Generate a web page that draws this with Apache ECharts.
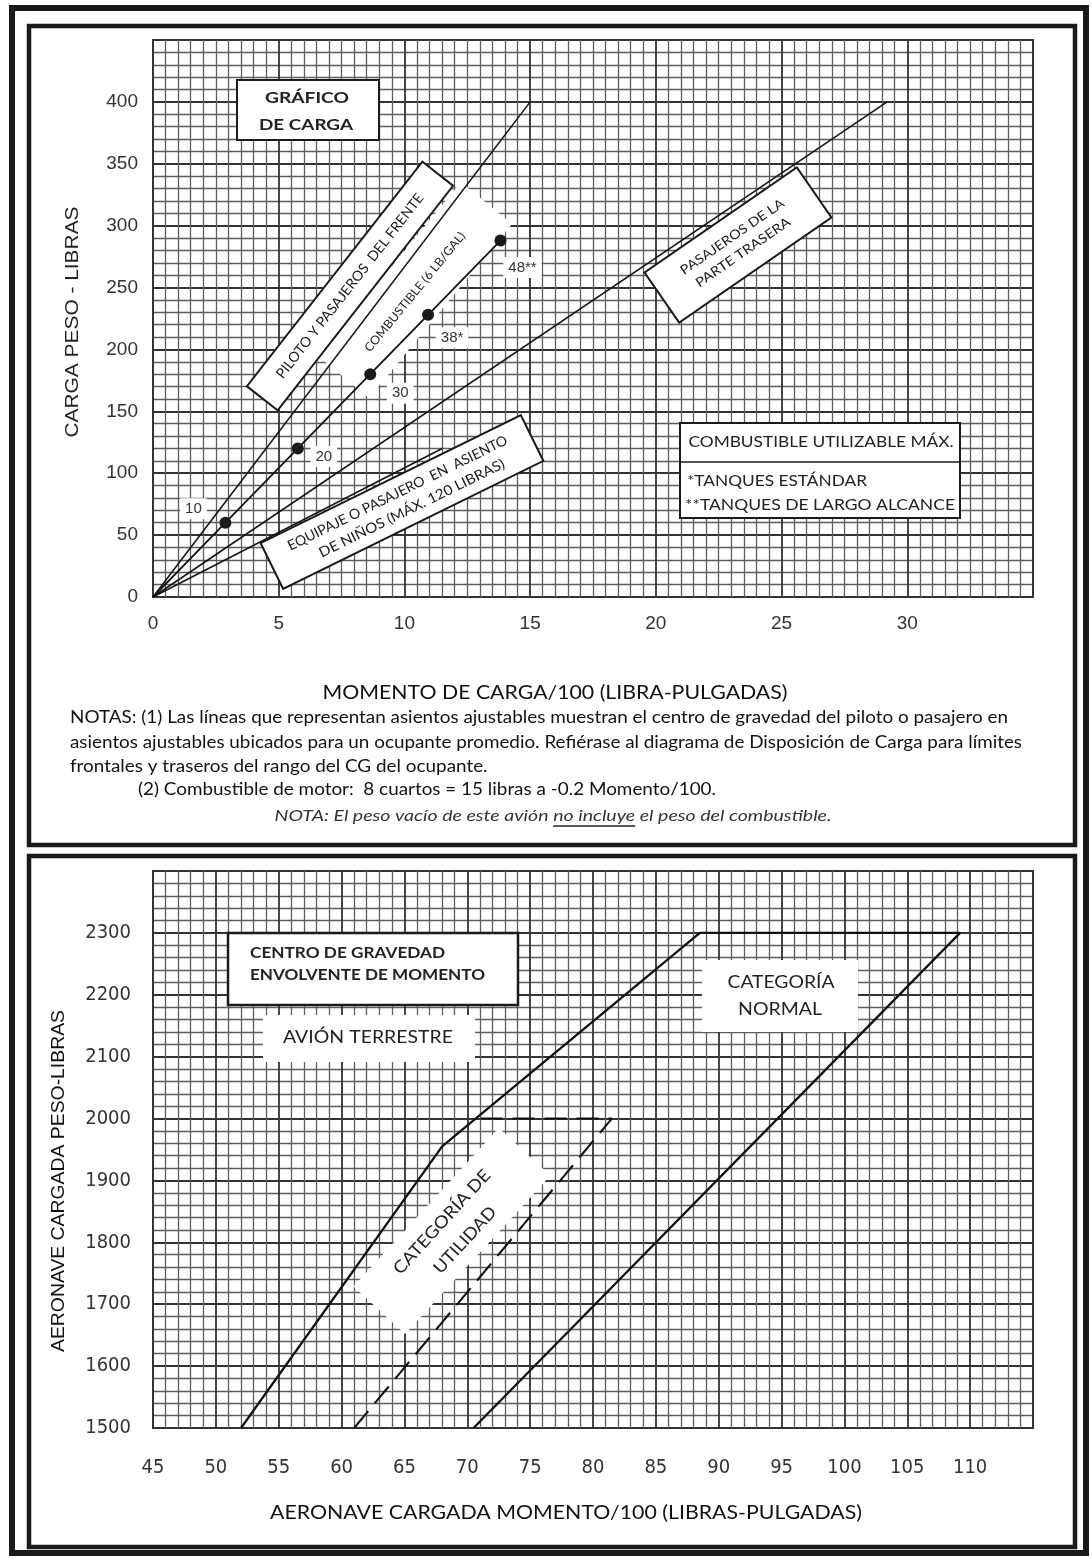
<!DOCTYPE html>
<html><head><meta charset="utf-8">
<script src="https://cdn.jsdelivr.net/npm/echarts/dist/echarts.min.js"></script>
<style>html,body{margin:0;padding:0;background:#fff}#c{width:1092px;height:1558px}</style>
</head><body><div id="c"></div>
<script>
// ---------- DATA ----------
// Loading graph (top): x = load moment/100 (lb-in), y = load weight (lb)
const pilotLine    = [[0, 0], [15, 400]];
const rearLine     = [[0, 0], [29.2, 400]];
const baggageLine  = [[0, 0], [11.5, 120]];
const fuelMoments  = [0, 2.88, 5.76, 8.64, 10.94, 13.82];
const fuelWeights  = [0, 60, 120, 180, 228, 288];
const fuelGallons  = ['', '10', '20', '30', '38', '48'];
const fuelMarks    = ['', '', '', '', '*', '**'];
// CG moment envelope (bottom)
const normalEnvelope = [[52, 1500], [68, 1955], [88.5, 2300], [109.2, 2300], [70.5, 1500]];
const utilityLine    = [[61, 1500], [81.5, 2000], [70.7, 2000]];
// axes
const topX = {min: 0, max: 35, interval: 5, minor: 10};
const topY = {min: 0, max: 450, interval: 50, minor: 5};
const botX = {min: 45, max: 115, interval: 5, minor: 5};
const botY = {min: 1500, max: 2400, interval: 100, minor: 5};

// ---------- HELPERS ----------
const CAL = 'Lato, "Open Sans", sans-serif';
const ARIAL = '"Liberation Sans", Arial, sans-serif';
const NARROW = '"Liberation Sans Narrow", "DejaVu Sans Condensed", "Liberation Sans", sans-serif';
const mctx = document.createElement('canvas').getContext('2d');
function tw(text, size, fam, weight, fstyle) {
  mctx.font = (fstyle || 'normal') + ' ' + (weight || 'normal') + ' ' + size + 'px ' + fam;
  return mctx.measureText(text).width;
}
function txt(text, x, y, o) {
  o = o || {};
  const size = o.size || 15, fam = o.fam || CAL, weight = o.weight || 'normal', fs = o.fstyle || 'normal';
  let sx = o.sx || 1;
  if (o.w) sx = o.w / tw(text, size, fam, weight, fs);
  return {type: 'text', x: x, y: y, rotation: (o.rot || 0) * Math.PI / 180, scaleX: sx, z: o.z || 30, silent: true,
    style: {text: text, x: 0, y: 0, align: o.align || 'center', verticalAlign: 'middle', fontSize: size,
      fontFamily: fam, fontWeight: weight, fontStyle: fs, fill: o.color || '#111'}};
}
function rbox(cx, cy, w, h, deg, lines, o) {
  o = o || {};
  const z = o.z || 20;
  const kids = [{type: 'rect', z: z, shape: {x: -w / 2, y: -h / 2, width: w, height: h},
    style: {fill: '#fff', stroke: o.stroke === undefined ? '#1a1a1a' : o.stroke, lineWidth: o.lw || 2}}];
  lines.forEach(function (l) {
    kids.push(txt(l.t, l.dx || 0, l.dy || 0, {size: l.size || o.size || 13, w: l.w, fam: l.fam || CAL, weight: l.weight || o.weight, align: l.align, z: z + 1, color: '#1a1a1a'}));
  });
  return {type: 'group', x: cx, y: cy, rotation: deg * Math.PI / 180, z: z, children: kids};
}
function gridLines() {
  return {
    splitLine: {show: true, lineStyle: {color: '#333', width: 1.8}},
    minorSplitLine: {show: true, lineStyle: {color: '#5e5e5e', width: 1.3}},
    axisLine: {show: false}, axisTick: {show: false}
  };
}
function axis(gi, a, label) {
  return Object.assign({gridIndex: gi, type: 'value', min: a.min, max: a.max, interval: a.interval,
    minorTick: {show: false, splitNumber: a.minor},
    axisLabel: Object.assign({showMaxLabel: false, color: '#333', formatter: function (v) { return String(v); }}, label)}, gridLines());
}

// fuel series data (labels placed beside each dot)
const labelOffsets = [null, [-32, -14], [26, 8], [30, 19], [24, 23], [22, 27]];
const fuelData = fuelMoments.map(function (m, i) {
  if (i === 0) return {value: [m, fuelWeights[i]], symbol: 'none', label: {show: false}};
  const off = labelOffsets[i];
  return {value: [m, fuelWeights[i]], label: {show: true, position: [6 + off[0], 6 + off[1]], align: 'center', verticalAlign: 'middle',
    formatter: fuelGallons[i] + fuelMarks[i], backgroundColor: '#fff', padding: [3, 5],
    fontSize: 15, fontFamily: ARIAL, color: '#333'}};
});

const chart = echarts.init(document.getElementById('c'), null, {renderer: 'canvas'});

// notes
const NS = 17;
const note1 = 'NOTAS: (1) Las líneas que representan asientos ajustables muestran el centro de gravedad del piloto o pasajero en';
const note2 = 'asientos ajustables ubicados para un ocupante promedio. Refiérase al diagrama de Disposición de Carga para límites';
const note3 = 'frontales y traseros del rango del CG del ocupante.';
const note4 = '(2) Combustible de motor:  8 cuartos = 15 libras a -0.2 Momento/100.';
const noteScale = 938 / tw(note1, NS, CAL);
const note5 = 'NOTA: El peso vacío de este avión no incluye el peso del combustible.';
const n5pre = 'NOTA: El peso vacío de este avión ';
const n5u = 'no incluye';
const n5w = 557, n5size = 16;
const n5s = n5w / tw(note5, n5size, CAL, 'normal', 'italic');
const n5left = 553 - n5w / 2;
const uStart = n5left + tw(n5pre, n5size, CAL, 'normal', 'italic') * n5s;
const uEnd = uStart + tw(n5u, n5size, CAL, 'normal', 'italic') * n5s;

const graphics = [
  // frames
  {type: 'rect', z: 40, shape: {x: 12, y: 8, width: 1074, height: 1545}, style: {fill: null, stroke: '#1a1a1a', lineWidth: 6}},
  {type: 'rect', z: 40, shape: {x: 29, y: 26, width: 1046, height: 819}, style: {fill: null, stroke: '#1a1a1a', lineWidth: 4.5}},
  {type: 'rect', z: 40, shape: {x: 29, y: 856, width: 1046, height: 691}, style: {fill: null, stroke: '#1a1a1a', lineWidth: 4.5}},
  // axis titles
  txt('CARGA PESO - LIBRAS', 73, 322, {rot: 90, w: 231, size: 18, fam: ARIAL, color: '#222'}),
  txt('MOMENTO DE CARGA/100 (LIBRA-PULGADAS)', 555, 693, {w: 465, size: 19}),
  txt('AERONAVE CARGADA PESO-LIBRAS', 59, 1181, {rot: 90, w: 342, size: 18, fam: ARIAL, color: '#111'}),
  txt('AERONAVE CARGADA MOMENTO/100 (LIBRAS-PULGADAS)', 566, 1513, {w: 592, size: 19}),
  // notes
  txt(note1, 70, 718, {align: 'left', sx: noteScale, size: NS}),
  txt(note2, 70, 743, {align: 'left', w: 952, size: NS}),
  txt(note3, 70, 767, {align: 'left', sx: noteScale, size: NS}),
  txt(note4, 138, 790, {align: 'left', sx: noteScale, size: NS}),
  txt(note5, 553, 816, {w: n5w, size: n5size, fstyle: 'italic', color: '#333'}),
  {type: 'line', z: 30, shape: {x1: uStart, y1: 826, x2: uEnd, y2: 826}, style: {stroke: '#222', lineWidth: 1.3}},

  // ---- top chart annotations ----
  {type: 'rect', z: 20, shape: {x: 237, y: 80, width: 142, height: 60}, style: {fill: '#fff', stroke: '#1a1a1a', lineWidth: 2}},
  txt('GRÁFICO', 307, 98, {w: 84, size: 16, weight: 'bold', color: '#222'}),
  txt('DE CARGA', 306, 125, {w: 94, size: 16, weight: 'bold', color: '#222'}),
  // fuel white region (below the lines)
  rbox(415, 290, 225, 66, 50.6, [], {stroke: null, z: 1}),
  txt('COMBUSTIBLE (6 LB/GAL)', 415, 292, {rot: 50.6, w: 151, size: 12, z: 25, color: '#222'}),
  rbox(350, 286, 285, 39, 52, [{t: 'PILOTO Y PASAJEROS  DEL FRENTE', w: 230, size: 14}]),
  rbox(738, 245, 185, 61, 34.6, [{t: 'PASAJEROS DE LA', dy: -10, w: 123, size: 13}, {t: 'PARTE TRASERA', dy: 9, w: 112, size: 13}]),
  rbox(402, 502, 290, 51, 26.2, [{t: 'EQUIPAJE O PASAJERO  EN  ASIENTO', dy: -10, w: 243, size: 14}, {t: 'DE NIÑOS (MÁX. 120 LIBRAS)', dy: 10, dx: 6, w: 205, size: 14}]),
  {type: 'rect', z: 20, shape: {x: 680, y: 423, width: 280, height: 95}, style: {fill: '#fff', stroke: '#1a1a1a', lineWidth: 2}},
  {type: 'line', z: 21, shape: {x1: 680, y1: 462, x2: 960, y2: 462}, style: {stroke: '#1a1a1a', lineWidth: 1.5}},
  txt('COMBUSTIBLE UTILIZABLE MÁX.', 821, 442, {w: 265, size: 15, color: '#222'}),
  txt('*TANQUES ESTÁNDAR', 687, 481, {align: 'left', w: 180, size: 15, color: '#222'}),
  txt('**TANQUES DE LARGO ALCANCE', 685, 505, {align: 'left', w: 270, size: 15, color: '#222'}),

  // ---- bottom chart annotations ----
  {type: 'rect', z: 20, shape: {x: 228, y: 933, width: 290, height: 72}, style: {fill: '#fff', stroke: '#1a1a1a', lineWidth: 2.5}},
  txt('CENTRO DE GRAVEDAD', 250, 953, {align: 'left', w: 195, size: 15, weight: 'bold', color: '#222'}),
  txt('ENVOLVENTE DE MOMENTO', 250, 975, {align: 'left', w: 235, size: 15, weight: 'bold', color: '#222'}),
  {type: 'rect', z: 1, shape: {x: 263, y: 1015, width: 212, height: 47}, style: {fill: '#fff'}},
  txt('AVIÓN TERRESTRE', 368, 1038, {w: 170, size: 17, color: '#222', z: 2}),
  {type: 'rect', z: 1, shape: {x: 702, y: 960, width: 156, height: 72}, style: {fill: '#fff'}},
  txt('CATEGORÍA', 781, 983, {w: 107, size: 17, color: '#222', z: 2}),
  txt('NORMAL', 780, 1010, {w: 84, size: 17, color: '#222', z: 2}),
  rbox(452, 1231, 215, 70, 47.5, [], {stroke: null, z: 1}),
  txt('CATEGORÍA DE', 442, 1222, {rot: 47.5, w: 135, size: 17, color: '#222', z: 25}),
  txt('UTILIDAD', 465, 1240, {rot: 47.5, w: 84, size: 17, color: '#222', z: 25})
];

const option = {
  animation: false,
  backgroundColor: '#fff',
  grid: [
    {left: 153, top: 40, width: 880, height: 557, show: true, borderColor: '#2a2a2a', borderWidth: 1.8, backgroundColor: '#fff'},
    {left: 153, top: 871, width: 880, height: 557, show: true, borderColor: '#2a2a2a', borderWidth: 1.8, backgroundColor: '#fff'}
  ],
  xAxis: [
    axis(0, topX, {fontSize: 19, fontFamily: ARIAL, margin: 17}),
    axis(1, botX, {fontSize: 20, fontFamily: NARROW, margin: 30})
  ],
  yAxis: [
    axis(0, topY, {fontSize: 19, fontFamily: ARIAL, margin: 15}),
    axis(1, botY, {fontSize: 20, fontFamily: NARROW, margin: 22})
  ],
  series: [
    {type: 'line', xAxisIndex: 0, yAxisIndex: 0, data: pilotLine, symbol: 'none', silent: true, z: 3,
      lineStyle: {color: '#151515', width: 1.6}},
    {type: 'line', xAxisIndex: 0, yAxisIndex: 0, data: rearLine, symbol: 'none', silent: true, z: 3,
      lineStyle: {color: '#151515', width: 1.6}},
    {type: 'line', xAxisIndex: 0, yAxisIndex: 0, data: baggageLine, symbol: 'none', silent: true, z: 3,
      lineStyle: {color: '#151515', width: 1.6}},
    {type: 'line', xAxisIndex: 0, yAxisIndex: 0, data: fuelData, symbol: 'circle', symbolSize: 12, showAllSymbol: true, silent: true, z: 4,
      itemStyle: {color: '#1a1a1a'}, lineStyle: {color: '#151515', width: 1.8}, labelLayout: {hideOverlap: false}},
    {type: 'line', xAxisIndex: 1, yAxisIndex: 1, data: normalEnvelope, symbol: 'none', silent: true, z: 3,
      lineStyle: {color: '#111', width: 2.3}},
    {type: 'line', xAxisIndex: 1, yAxisIndex: 1, data: utilityLine, symbol: 'none', silent: true, z: 3,
      lineStyle: {color: '#111', width: 2.1, type: [22, 10]}}
  ],
  graphic: graphics
};
chart.setOption(option);
</script>
</body></html>
